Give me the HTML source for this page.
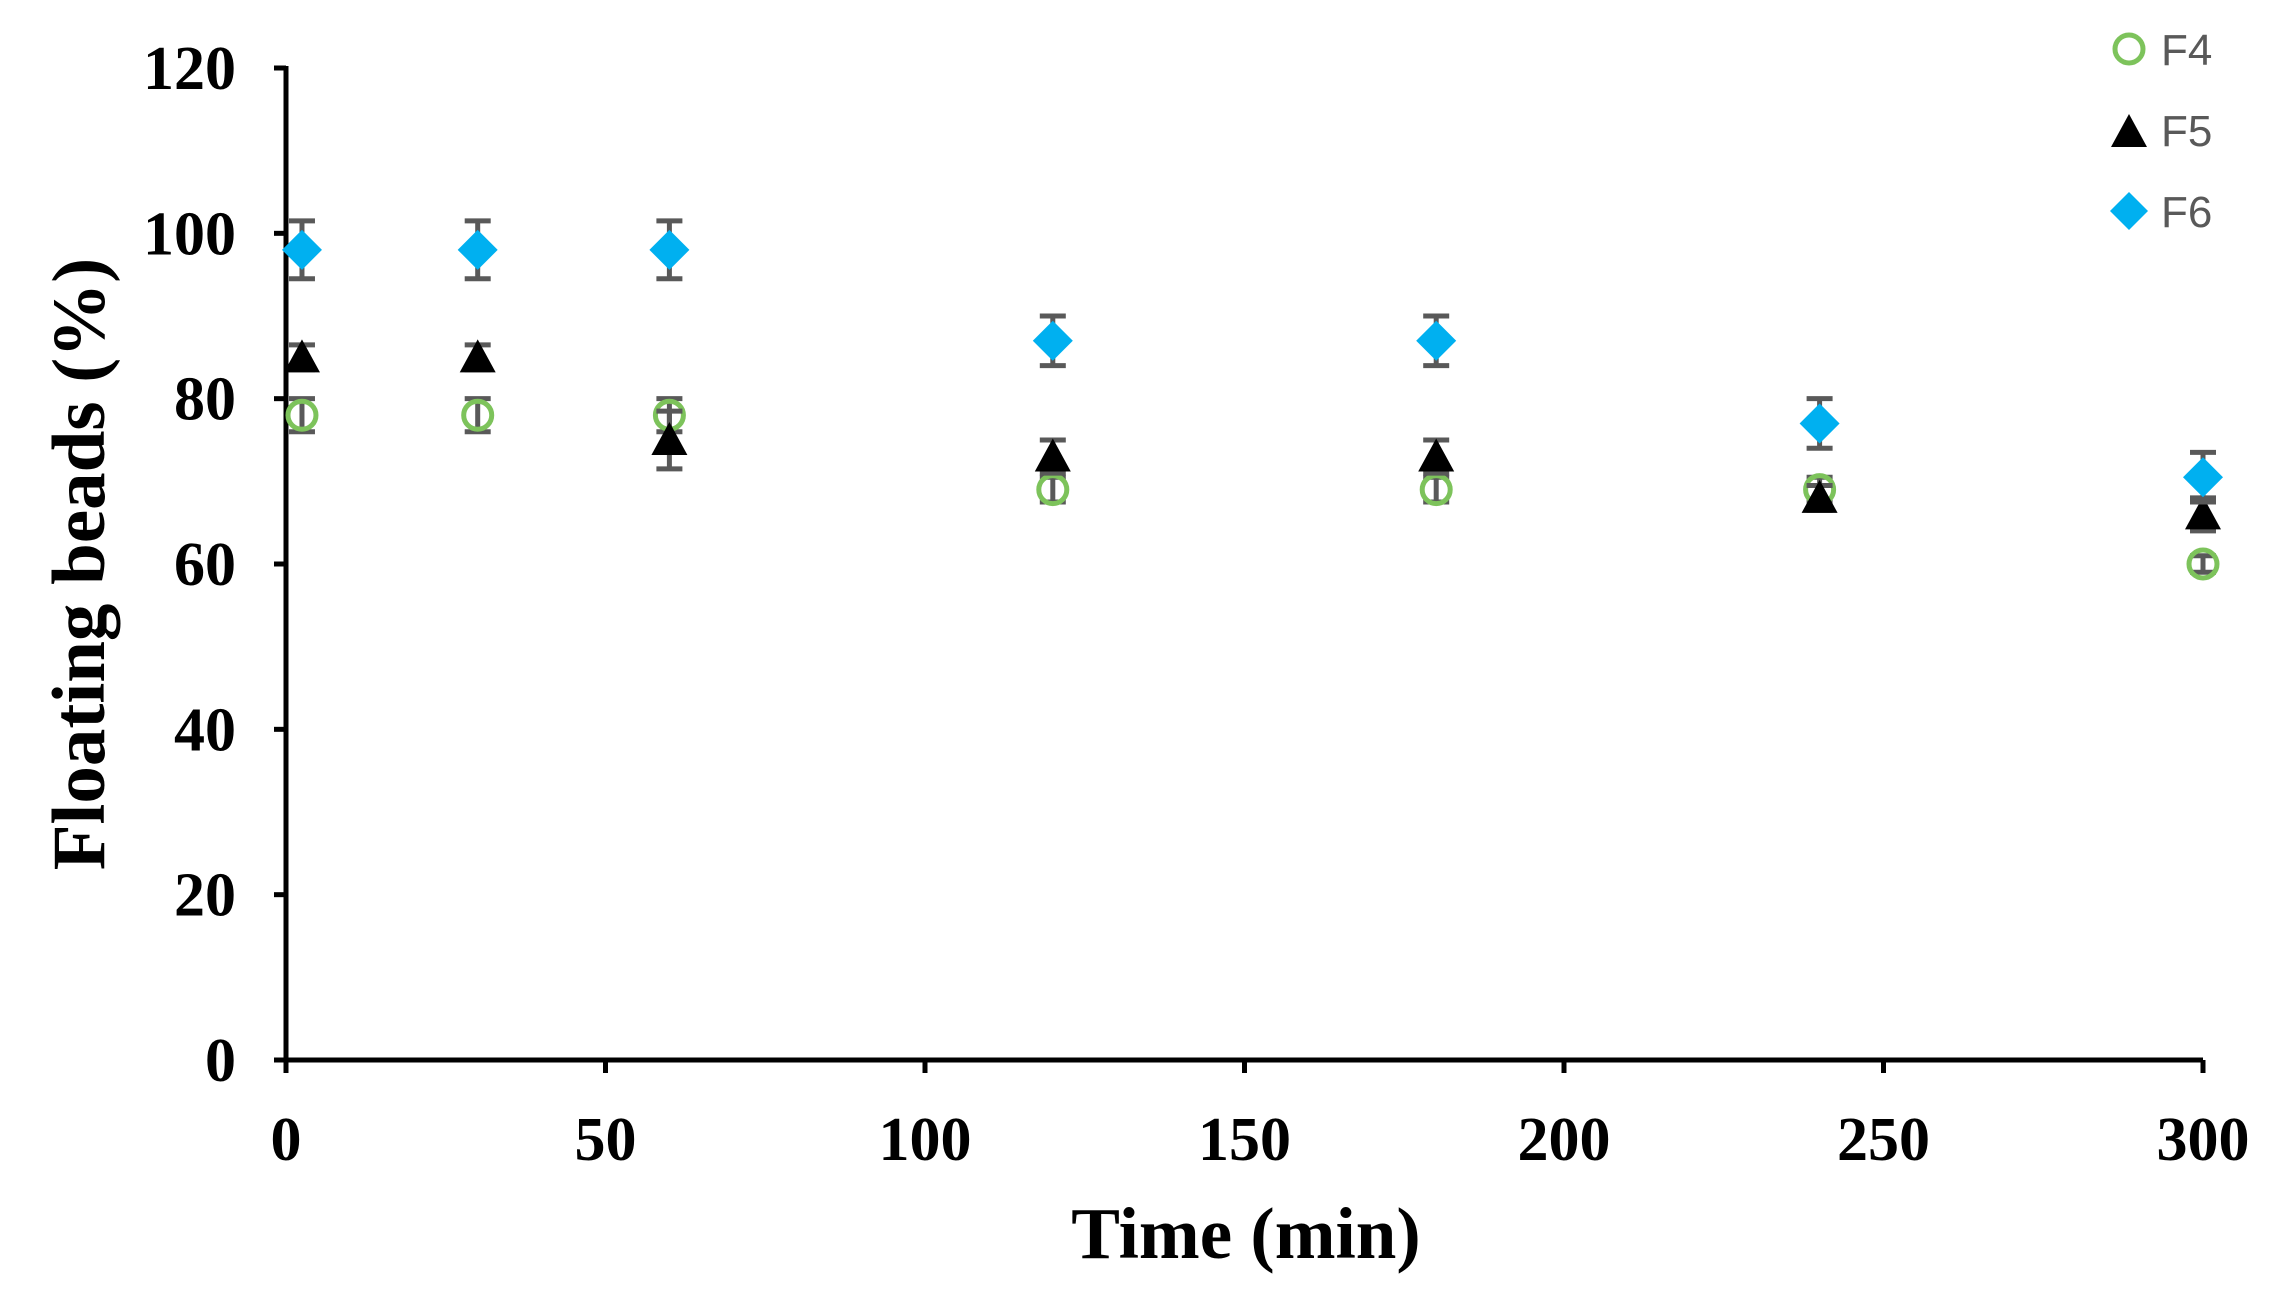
<!DOCTYPE html>
<html><head><style>body{margin:0;background:#fff}svg{display:block}</style></head><body>
<svg width="2280" height="1293" viewBox="0 0 2280 1293" xmlns="http://www.w3.org/2000/svg">
<rect width="2280" height="1293" fill="#fff"/>
<g stroke="#000" stroke-width="5" fill="none">
<line x1="286" y1="66" x2="286" y2="1062"/>
<line x1="284" y1="1060" x2="2203" y2="1060"/>
<g id="yt"></g>
</g>
<g font-family="Liberation Serif, serif" font-weight="bold" font-size="62" fill="#000" id="labels"></g>
<text x="1246" y="1258" font-family="Liberation Serif, serif" font-weight="bold" font-size="73" text-anchor="middle">Time (min)</text>
<text transform="translate(104,564) rotate(-90)" font-family="Liberation Serif, serif" font-weight="bold" font-size="75" text-anchor="middle">Floating beads (%)</text>
<g id="data"></g>
<g font-family="Liberation Sans, sans-serif" font-size="44" fill="#595959">
<circle cx="2129" cy="49" r="14" fill="none" stroke="#7dc35b" stroke-width="5"/>
<text x="2161" y="65">F4</text>
<polygon points="2111,147 2147,147 2129,114" fill="#000"/>
<text x="2161" y="146">F5</text>
<polygon points="2129,192 2148,211 2129,230 2110,211" fill="#00b0f0"/>
<text x="2161" y="227">F6</text>
</g>
<script>
const ns="http://www.w3.org/2000/svg";
const X=t=>286+t*(2203-286)/300, Y=v=>1060-v*(1060-68)/120;
const yt=document.getElementById('yt'),lab=document.getElementById('labels');
function el(p,n,a){const e=document.createElementNS(ns,n);for(const k in a)e.setAttribute(k,a[k]);p.appendChild(e);return e;}
for(let v=0;v<=120;v+=20){el(yt,'line',{x1:274,y1:Y(v),x2:286,y2:Y(v)});const t=el(lab,'text',{x:236,y:Y(v)+21,'text-anchor':'end'});t.textContent=v;}
for(let t=0;t<=300;t+=50){el(yt,'line',{x1:X(t),y1:1060,x2:X(t),y2:1073});const e=el(lab,'text',{x:X(t),y:1160,'text-anchor':'middle'});e.textContent=t;}
const ts=[2.5,30,60,120,180,240,300];
const F4=[78,78,78,69,69,69,60],F5=[85,85,75,73,73,68,66],F6=[98,98,98,87,87,77,70.5];
const E4=[2,2,2,1.5,1.5,1.5,1],E5=[1.5,1.5,3.5,2,2,1.5,2],E6=[3.5,3.5,3.5,3,3,3,3];
const d=document.getElementById('data');
function eb(x,v,e){const g=el(d,'g',{stroke:'#595959','stroke-width':5});el(g,'line',{x1:x,y1:Y(v+e),x2:x,y2:Y(v-e)});el(g,'line',{x1:x-13,y1:Y(v+e),x2:x+13,y2:Y(v+e)});el(g,'line',{x1:x-13,y1:Y(v-e),x2:x+13,y2:Y(v-e)});}
ts.forEach((t,i)=>{const x=X(t);
eb(x,F4[i],E4[i]);el(d,'circle',{cx:x,cy:Y(F4[i]),r:14,fill:'none',stroke:'#7dc35b','stroke-width':5});
eb(x,F5[i],E5[i]);const y5=Y(F5[i]);el(d,'polygon',{points:`${x-18},${y5+15} ${x+18},${y5+15} ${x},${y5-18}`,fill:'#000'});
eb(x,F6[i],E6[i]);const y6=Y(F6[i]);el(d,'polygon',{points:`${x},${y6-20} ${x+20},${y6} ${x},${y6+20} ${x-20},${y6}`,fill:'#00b0f0'});
});
</script>
</svg>
</body></html>
